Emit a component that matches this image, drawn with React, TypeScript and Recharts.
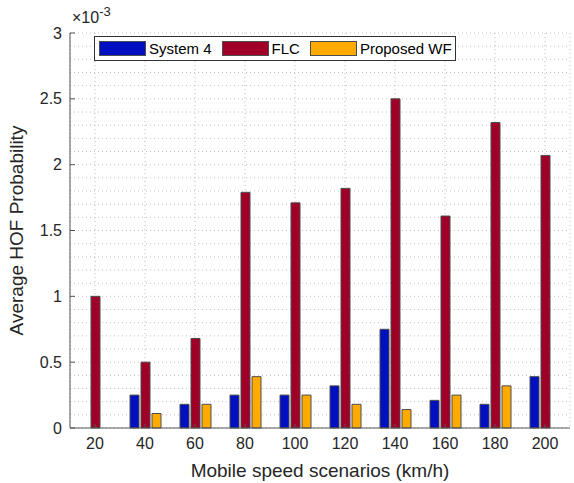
import React from "react";
import { BarChart, Bar, XAxis, YAxis, CartesianGrid } from "recharts";

// values in units of 1e-3
const speeds = ["20", "40", "60", "80", "100", "120", "140", "160", "180", "200"];
const system4 = [0, 0.25, 0.18, 0.25, 0.25, 0.32, 0.75, 0.21, 0.18, 0.39];
const flc = [1.0, 0.5, 0.68, 1.79, 1.71, 1.82, 2.5, 1.61, 2.32, 2.07];
const proposedWF = [0, 0.11, 0.18, 0.39, 0.25, 0.18, 0.14, 0.25, 0.32, 0];
const majorTicks = [0, 0.5, 1, 1.5, 2, 2.5, 3];
const gridTicks = [
  0, 0.1, 0.2, 0.3, 0.4, 0.5, 0.6, 0.7, 0.8, 0.9, 1, 1.1, 1.2, 1.3, 1.4, 1.5,
  1.6, 1.7, 1.8, 1.9, 2, 2.1, 2.2, 2.3, 2.4, 2.5, 2.6, 2.7, 2.8, 2.9, 3,
];

const BLUE = "#0010c0";
const RED = "#a00028";
const YELLOW = "#ffaa00";
const EDGE = "#4d4d4d";
const TEXT = "#262626";
const AXIS = "#555";
const FONT = "Arial, 'Liberation Sans', sans-serif";

const legendItems = [
  { name: "System 4", color: BLUE },
  { name: "FLC", color: RED },
  { name: "Proposed WF", color: YELLOW },
];

// only label major ticks, draw small inward tick marks for them
function YTick(props: any) {
  const { x, y, payload } = props;
  const v = payload.value;
  const isMajor = majorTicks.some((m) => Math.abs(m - v) < 1e-6);
  if (!isMajor) return null;
  return (
    <g>
      <line x1={x + 8} x2={x + 13} y1={y} y2={y} stroke={AXIS} />
      <text x={x} y={y} dy="0.35em" textAnchor="end" fill={TEXT} fontSize={16} fontFamily={FONT}>
        {String(v)}
      </text>
    </g>
  );
}

export default function App() {
  const data = speeds.map((s, i) => ({
    speed: s,
    system4: system4[i],
    flc: flc[i],
    wf: proposedWF[i],
  }));

  return (
    <div style={{ position: "absolute", left: 0, top: 0, width: 574, height: 483, background: "#fff", fontFamily: FONT }}>
      <BarChart
        width={574}
        height={483}
        data={data}
        margin={{ top: 33, right: 4, bottom: 0, left: 0 }}
        barSize={9}
        barGap={2}
      >
        <CartesianGrid stroke="#c0c0c0" strokeDasharray="1 3" />
        <XAxis
          dataKey="speed"
          height={55}
          tickSize={-4}
          tickMargin={14}
          tick={{ fill: TEXT, fontSize: 16, fontFamily: FONT }}
          axisLine={{ stroke: AXIS }}
          tickLine={{ stroke: AXIS }}
          label={{
            value: "Mobile speed scenarios (km/h)",
            position: "insideBottom",
            offset: 6,
            fill: TEXT,
            fontSize: 19,
            fontFamily: FONT,
          }}
        />
        <YAxis
          width={70}
          domain={[0, 3]}
          ticks={gridTicks}
          interval={0}
          tickSize={0}
          tickMargin={8}
          tick={<YTick />}
          tickLine={false}
          axisLine={{ stroke: AXIS }}
          label={{
            value: "Average HOF Probability",
            angle: -90,
            position: "insideLeft",
            offset: 16,
            style: { textAnchor: "middle" },
            fill: TEXT,
            fontSize: 19,
            fontFamily: FONT,
          }}
        />
        <Bar dataKey="system4" fill={BLUE} stroke={EDGE} strokeWidth={1} isAnimationActive={false} />
        <Bar dataKey="flc" fill={RED} stroke={EDGE} strokeWidth={1} isAnimationActive={false} />
        <Bar dataKey="wf" fill={YELLOW} stroke={EDGE} strokeWidth={1} isAnimationActive={false} />
      </BarChart>

      <div style={{ position: "absolute", left: 72, top: 8, fontSize: 16, color: TEXT, lineHeight: "20px", whiteSpace: "nowrap" }}>
        ×10<sup style={{ fontSize: 13, verticalAlign: "top", position: "relative", top: -6 }}>-3</sup>
      </div>

      <div
        style={{
          position: "absolute",
          left: 94,
          top: 36,
          width: 362,
          height: 25,
          border: "1px solid #333",
          background: "#fff",
          display: "flex",
          alignItems: "center",
          fontSize: 15,
          color: "#000",
          whiteSpace: "nowrap",
          paddingLeft: 4,
          boxSizing: "border-box",
        }}
      >
        {legendItems.map((it) => (
          <div key={it.name} style={{ display: "flex", alignItems: "center", marginRight: 10 }}>
            <div style={{ width: 45, height: 13, background: it.color, border: `1px solid ${EDGE}`, marginRight: 3 }} />
            <span>{it.name}</span>
          </div>
        ))}
      </div>
    </div>
  );
}
